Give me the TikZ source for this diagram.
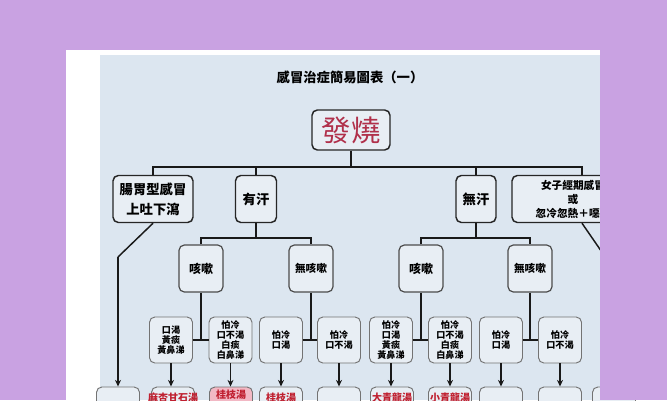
\documentclass[tikz,border=0pt]{standalone}
\usepackage{fontspec}
\usetikzlibrary{arrows.meta}
\newfontfamily\cjk{Noto Sans CJK TC}
\definecolor{bgpurple}{HTML}{C9A2E2}
\definecolor{paper}{HTML}{DCE6F0}
\definecolor{boxfill}{HTML}{E8EEF4}
\definecolor{feverred}{HTML}{B0304A}
\definecolor{drugred}{HTML}{C02030}
\definecolor{pinkfill}{HTML}{F2B8C4}
\tikzset{
  topbox/.style={draw=black!85, line width=1.1pt, rounded corners=4pt, fill=boxfill,
    align=center, inner sep=0pt, font=\cjk\bfseries\fontsize{10}{15}\selectfont},
  midbox/.style={draw=black!70, line width=0.9pt, rounded corners=4pt, fill=boxfill,
    align=center, inner sep=0pt, minimum width=33pt, minimum height=35.25pt,
    font=\cjk\bfseries\fontsize{9}{11}\selectfont},
  lowbox/.style={draw=black!55, line width=0.7pt, rounded corners=4pt, fill=boxfill,
    align=center, inner sep=0pt, minimum width=32.25pt, minimum height=34.5pt,
    font=\cjk\bfseries\fontsize{6.8}{7.6}\selectfont},
  drugbox/.style={draw=black!55, line width=0.7pt, rounded corners=4pt, fill=boxfill,
    inner sep=0pt, minimum width=32.25pt, minimum height=34.5pt},
  drugtext/.style={anchor=north, inner sep=0pt, text=drugred,
    font=\cjk\bfseries\fontsize{7.5}{9}\selectfont},
  conn/.style={draw=black!90, line width=1.1pt},
  arr/.style={draw=black!90, line width=1.1pt, -{Stealth[length=5pt,width=4.5pt]}},
}
\begin{document}
\begin{tikzpicture}[x=0.75pt,y=-0.75pt]
\useasboundingbox (0,0) rectangle (667,400);
\begin{scope}
\clip (0,0) rectangle (667,400);
\fill[bgpurple] (0,0) rectangle (667,400);
\fill[white] (66,50) rectangle (600,400);
\fill[paper] (100,55) rectangle (600,400);

\node[font=\cjk\bfseries\fontsize{10}{12}\selectfont] (title) at (350,77) {感冒治症簡易圖表（一）};

\node[topbox, minimum width=58.5pt, minimum height=30pt,
  font=\cjk\fontsize{22}{24}\selectfont, text=feverred] (fever) at (351,130) {發燒};

\node[topbox, minimum width=60pt, minimum height=35.25pt] (gut) at (153,199) {腸胃型感冒\\上吐下瀉};
\node[topbox, minimum width=30.75pt, minimum height=35.25pt] (you) at (256,199) {有汗};
\node[topbox, minimum width=30pt, minimum height=35.25pt] (wu) at (476,199) {無汗};
\node[topbox, minimum width=91.5pt, minimum height=35.25pt,
  font=\cjk\bfseries\fontsize{8}{10.5}\selectfont] (nv) at (573,199) {女子經期感冒\\或\\忽冷忽熱＋噁心};

\node[midbox] (c1) at (201,268.5) {咳嗽};
\node[midbox, font=\cjk\bfseries\fontsize{8}{10}\selectfont] (n1) at (311,268.5) {無咳嗽};
\node[midbox] (c2) at (421,268.5) {咳嗽};
\node[midbox, font=\cjk\bfseries\fontsize{8}{10}\selectfont] (n2) at (530,268.5) {無咳嗽};

\node[lowbox] (r1) at (171,340) {口渴\\黃痰\\黃鼻涕};
\node[lowbox] (r2) at (230.5,340) {怕冷\\口不渴\\白痰\\白鼻涕};
\node[lowbox] (r3) at (281,340) {怕冷\\口渴};
\node[lowbox] (r4) at (339,340) {怕冷\\口不渴};
\node[lowbox] (r5) at (391,340) {怕冷\\口渴\\黃痰\\黃鼻涕};
\node[lowbox] (r6) at (450,340) {怕冷\\口不渴\\白痰\\白鼻涕};
\node[lowbox] (r7) at (501,340) {怕冷\\口渴};
\node[lowbox] (r8) at (560,340) {怕冷\\口不渴};

\node[drugbox] (b0) at (118,410) {};
\node[drugbox] (b1) at (173,410) {};
\node[drugbox, fill=pinkfill] (b2) at (231,410) {};
\node[drugbox] (b3) at (281,410) {};
\node[drugbox] (b4) at (339,410) {};
\node[drugbox] (b5) at (392,410) {};
\node[drugbox] (b6) at (450,410) {};
\node[drugbox] (b7) at (501,410) {};
\node[drugbox] (b8) at (560,410) {};
\node[drugbox] (b9) at (614,410) {};

\node[drugtext] (t1) at (173,393) {麻杏甘石湯};
\node[drugtext] (t2) at (231,390) {桂枝湯};
\node[drugtext] (t3) at (281,393) {桂枝湯};
\node[drugtext] (t5) at (392,393) {大青龍湯};
\node[drugtext] (t6) at (450,393) {小青龍湯};

% level 1 bus
\coordinate (busL) at (153,167);
\coordinate (busR) at (582,167);
\draw[conn] (fever.south) -- (fever.south |- busL);
\draw[conn] (gut.north) -- (busL) -- (busR) -- (busR |- nv.north);
\draw[conn] (you.north) -- (you.north |- busL);
\draw[conn] (wu.north) -- (wu.north |- busL);

% gut and women branches
\coordinate (gutbend) at (118,257);
\draw[conn] (gut.south) -- (gutbend);
\draw[arr] (gutbend) -- (b0.north);
\coordinate (nvout) at (606,258);
\draw[conn] (nv.south -| busR) -- (nvout);

% level 2 buses
\coordinate (bus2L) at (201,238);
\coordinate (bus2R) at (421,238);
\draw[conn] (you.south) -- (you.south |- bus2L);
\draw[conn] (c1.north) -- (bus2L) -- (bus2L -| n1.north) -- (n1.north);
\draw[conn] (wu.south) -- (wu.south |- bus2R);
\draw[conn] (c2.north) -- (bus2R) -- (bus2R -| n2.north) -- (n2.north);

% level 3 T joints
\draw[conn] (c1.south) -- (c1.south |- r1.east);
\draw[conn] (r1.east) -- (r2.west);
\draw[conn] (n1.south) -- (n1.south |- r3.east);
\draw[conn] (r3.east) -- (r4.west);
\draw[conn] (c2.south) -- (c2.south |- r5.east);
\draw[conn] (r5.east) -- (r6.west);
\draw[conn] (n2.south) -- (n2.south |- r7.east);
\draw[conn] (r7.east) -- (r8.west);

% arrows to remedies
\draw[arr] (r1.south) -- (r1.south |- b1.north);
\draw[arr] (r2.south) -- (r2.south |- b2.north);
\draw[arr] (r3.south) -- (r3.south |- b3.north);
\draw[arr] (r4.south) -- (r4.south |- b4.north);
\draw[arr] (r5.south) -- (r5.south |- b5.north);
\draw[arr] (r6.south) -- (r6.south |- b6.north);
\draw[arr] (r7.south) -- (r7.south |- b7.north);
\draw[arr] (r8.south) -- (r8.south |- b8.north);

% purple margin on the right over the paper
\fill[bgpurple] (600,0) rectangle (667,400);
\end{scope}
\end{tikzpicture}
\end{document}
